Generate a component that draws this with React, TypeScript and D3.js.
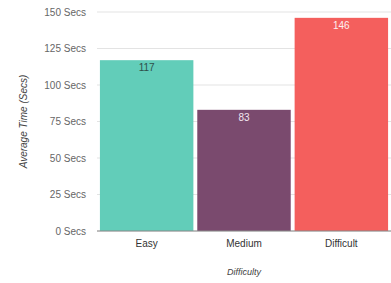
import * as d3 from 'd3'

const categories = ['Easy', 'Medium', 'Difficult']
const avgTimes = [117, 83, 146]
const barColors = ['#62cdb9', '#7a4a6e', '#f45f5d']
const labelColors = ['#2f4f4a', '#f2e6f0', '#fdf0ef']
const yTicks = [0, 25, 50, 75, 100, 125, 150]

export default function App() {
  const width = 391
  const height = 283
  const margin = { top: 12, right: 0, bottom: 52, left: 97 }

  const x = d3.scaleBand()
    .domain(categories)
    .range([margin.left, width - margin.right])
    .paddingInner(0.04)
    .paddingOuter(0.03)

  const y = d3.scaleLinear()
    .domain([0, 150])
    .range([height - margin.bottom, margin.top])

  const font = '"Liberation Sans", Arial, sans-serif'

  return (
    <svg width={width} height={height} style={{ position: 'absolute', left: 0, top: 0 }} fontFamily={font}>
      {/* grid */}
      {yTicks.map(t => (
        <g key={t}>
          <line x1={margin.left} x2={width} y1={y(t)} y2={y(t)} stroke="#e3e3e3" strokeWidth={1} />
          <text x={86} y={y(t)} dy="0.35em" textAnchor="end" fontSize={10} fill="#666">
            {t} Secs
          </text>
        </g>
      ))}

      {/* bars */}
      {categories.map((c, i) => (
        <g key={c}>
          <rect
            x={x(c)}
            y={y(avgTimes[i])}
            width={x.bandwidth()}
            height={y(0) - y(avgTimes[i])}
            fill={barColors[i]}
          />
          <text
            x={(x(c) ?? 0) + x.bandwidth() / 2}
            y={y(avgTimes[i]) + 11}
            textAnchor="middle"
            fontSize={10}
            fill={labelColors[i]}
          >
            {avgTimes[i]}
          </text>
          <text
            x={(x(c) ?? 0) + x.bandwidth() / 2}
            y={y(0) + 16}
            textAnchor="middle"
            fontSize={10}
            fill="#333"
          >
            {c}
          </text>
        </g>
      ))}

      <line x1={margin.left} x2={width} y1={y(0)} y2={y(0)} stroke="#888" strokeWidth={1} />

      <text
        transform={`translate(27,${(y(0) + y(150)) / 2}) rotate(-90)`}
        textAnchor="middle"
        fontSize={10}
        fontStyle="italic"
        fill="#444"
      >
        Average Time (Secs)
      </text>
      <text x={244} y={275} textAnchor="middle" fontSize={9} fontStyle="italic" fill="#444">
        Difficulty
      </text>
    </svg>
  )
}
